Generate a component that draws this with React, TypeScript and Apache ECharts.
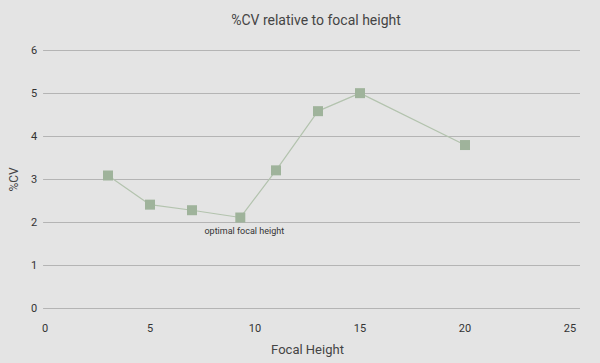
import React, { useEffect, useRef } from "react";
import * as echarts from "echarts";

const focalHeights = [3, 5, 7, 9.3, 11, 13, 15, 20];
const cvValues = [3.09, 2.41, 2.28, 2.11, 3.21, 4.59, 5.01, 3.8];
const annotationIndex = 3;
const annotationText = "optimal focal height";
const titleText = "%CV relative to focal height";
const xAxisName = "Focal Height";
const yAxisName = "%CV";

export default function App() {
  const ref = useRef<HTMLDivElement>(null);
  useEffect(() => {
    if (!ref.current) return;
    const chart = echarts.init(ref.current, null, { renderer: "svg" });
    const font = "Roboto, 'Open Sans', sans-serif";
    const data = focalHeights.map((x, i) => {
      const item: any = { value: [x, cvValues[i]] };
      if (i === annotationIndex) {
        item.label = {
          show: true,
          position: "bottom",
          distance: 4,
          offset: [4, 0],
          formatter: annotationText,
          color: "#333",
          fontSize: 9,
          fontFamily: font,
        };
      }
      return item;
    });
    chart.setOption({
      animation: false,
      backgroundColor: "#e4e4e4",
      textStyle: { fontFamily: font },
      title: {
        text: titleText,
        left: 311,
        textAlign: "center",
        top: 8,
        textStyle: { fontSize: 14, fontWeight: "normal", color: "#444", fontFamily: font },
      },
      grid: [
        { left: 40, right: 20, top: 50.7, bottom: 55 },
        { left: 45, right: 30, top: 50.7, bottom: 55 },
      ],
      xAxis: [
        {
          gridIndex: 0, type: "value", min: 0, max: 25, show: false,
          splitLine: { show: false },
        },
        {
          gridIndex: 1, type: "value", min: 0, max: 25, interval: 5,
          axisLine: { show: false }, axisTick: { show: false },
          splitLine: { show: false },
          axisLabel: { color: "#333", fontSize: 11, margin: 15, fontFamily: font },
          name: xAxisName, nameLocation: "middle", nameGap: 35,
          nameTextStyle: { color: "#444", fontSize: 13, fontFamily: font },
        },
      ],
      yAxis: [
        {
          gridIndex: 0, type: "value", min: 0, max: 6, interval: 1,
          axisLine: { show: false }, axisTick: { show: false },
          splitLine: { lineStyle: { color: "#b4b4b4", width: 1 } },
          axisLabel: { color: "#333", fontSize: 11, margin: 6, fontFamily: font },
          name: yAxisName, nameLocation: "middle", nameGap: 23,
          nameTextStyle: { color: "#444", fontSize: 12, fontFamily: font },
        },
        {
          gridIndex: 1, type: "value", min: 0, max: 6, interval: 1, show: false,
          splitLine: { show: false },
        },
      ],
      series: [
        {
          type: "line",
          xAxisIndex: 1,
          yAxisIndex: 1,
          data,
          symbol: "rect",
          symbolSize: 10,
          showAllSymbol: true,
          itemStyle: { color: "#9fb39b" },
          lineStyle: { color: "#b3c3ae", width: 1.2 },
        },
      ],
    });
    return () => chart.dispose();
  }, []);
  return <div ref={ref} style={{ width: 600, height: 363, position: "absolute", left: 0, top: 0 }} />;
}
